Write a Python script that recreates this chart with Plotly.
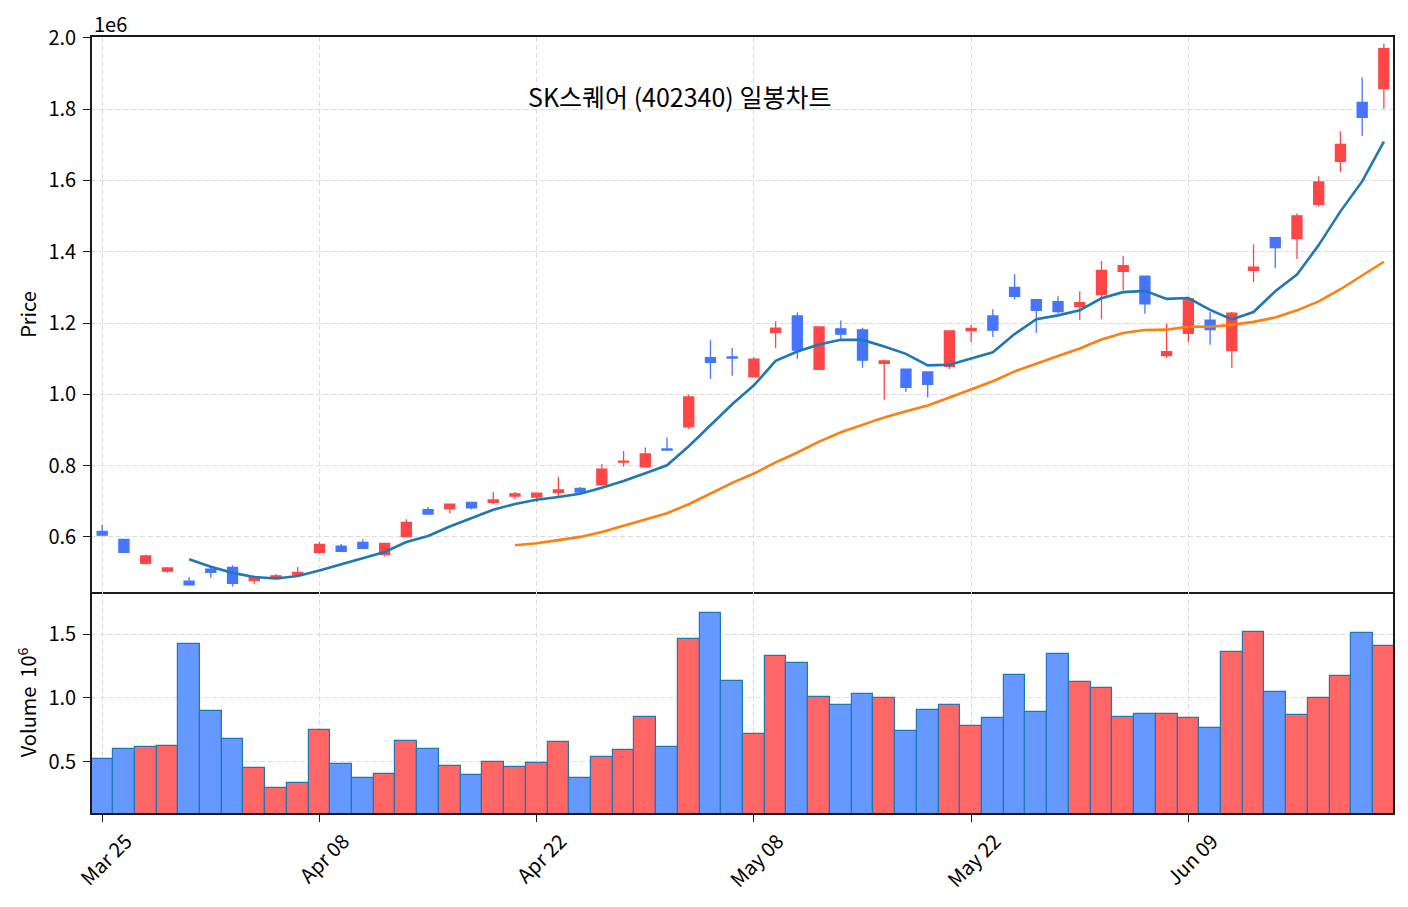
import plotly.graph_objects as go
import pandas as pd

FONT = "Noto Sans CJK KR, Noto Sans, DejaVu Sans"

dates = [
    "2025-03-25", "2025-03-26", "2025-03-27", "2025-03-28", "2025-03-31",
    "2025-04-01", "2025-04-02", "2025-04-03", "2025-04-04", "2025-04-07",
    "2025-04-08", "2025-04-09", "2025-04-10", "2025-04-11", "2025-04-14",
    "2025-04-15", "2025-04-16", "2025-04-17", "2025-04-18", "2025-04-21",
    "2025-04-22", "2025-04-23", "2025-04-24", "2025-04-25", "2025-04-28",
    "2025-04-29", "2025-04-30", "2025-05-01", "2025-05-02", "2025-05-07",
    "2025-05-08", "2025-05-09", "2025-05-12", "2025-05-13", "2025-05-14",
    "2025-05-15", "2025-05-16", "2025-05-19", "2025-05-20", "2025-05-21",
    "2025-05-22", "2025-05-23", "2025-05-26", "2025-05-27", "2025-05-28",
    "2025-05-29", "2025-05-30", "2025-06-02", "2025-06-04", "2025-06-05",
    "2025-06-09", "2025-06-10", "2025-06-11", "2025-06-12", "2025-06-13",
    "2025-06-16", "2025-06-17", "2025-06-18", "2025-06-19", "2025-06-20",
]

open_ = [
    616000, 593000, 526000, 504000, 476000, 510000, 515000, 478000, 483000, 495000,
    557000, 574000, 585000, 551000, 601000, 677000, 679000, 697000, 697000, 715000,
    712000, 725000, 736000, 746000, 810000, 797000, 847000, 909000, 1103000, 1105000,
    1049000, 1174000, 1220000, 1070000, 1184000, 1181000, 1087000, 1071000, 1063000, 1079000,
    1179000, 1220000, 1300000, 1266000, 1260000, 1246000, 1280000, 1345000, 1332000, 1109000,
    1171000, 1208000, 1123000, 1348000, 1440000, 1437000, 1533000, 1654000, 1819000, 1858000,
]
high = [
    634000, 594000, 550000, 516000, 488000, 513000, 521000, 491000, 496000, 516000,
    586000, 580000, 594000, 584000, 650000, 684000, 693000, 697000, 726000, 726000,
    724000, 769000, 740000, 805000, 841000, 851000, 879000, 999000, 1152000, 1130000,
    1104000, 1205000, 1230000, 1190000, 1207000, 1187000, 1098000, 1072000, 1064000, 1179000,
    1196000, 1239000, 1337000, 1267000, 1275000, 1289000, 1374000, 1389000, 1333000, 1198000,
    1269000, 1231000, 1231000, 1421000, 1441000, 1508000, 1612000, 1738000, 1889000, 1984000,
]
low = [
    604000, 556000, 522000, 500000, 464000, 486000, 461000, 469000, 482000, 491000,
    553000, 559000, 567000, 545000, 599000, 664000, 666000, 677000, 692000, 706000,
    698000, 714000, 723000, 746000, 798000, 797000, 844000, 903000, 1043000, 1052000,
    1049000, 1130000, 1100000, 1069000, 1150000, 1075000, 985000, 1007000, 991000, 1071000,
    1147000, 1161000, 1266000, 1173000, 1227000, 1209000, 1211000, 1292000, 1226000, 1103000,
    1147000, 1139000, 1075000, 1315000, 1354000, 1380000, 1526000, 1624000, 1725000, 1801000,
]
close = [
    605000, 557000, 547000, 513000, 466000, 501000, 470000, 489000, 491000, 501000,
    579000, 560000, 568000, 582000, 641000, 664000, 692000, 682000, 704000, 721000,
    723000, 732000, 726000, 790000, 813000, 833000, 844000, 993000, 1090000, 1102000,
    1099000, 1186000, 1124000, 1189000, 1169000, 1096000, 1094000, 1020000, 1028000, 1178000,
    1185000, 1180000, 1275000, 1236000, 1232000, 1257000, 1348000, 1361000, 1254000, 1120000,
    1268000, 1182000, 1228000, 1357000, 1412000, 1501000, 1596000, 1701000, 1777000, 1970000,
]
volume = [
    521000, 599000, 615000, 625000, 1424000, 897000, 680000, 450000, 294000, 336000,
    748000, 482000, 372000, 406000, 662000, 599000, 466000, 396000, 497000, 458000,
    490000, 654000, 372000, 537000, 591000, 850000, 615000, 1461000, 1664000, 1132000,
    714000, 1333000, 1273000, 1007000, 944000, 1035000, 999000, 740000, 905000, 944000,
    779000, 842000, 1179000, 889000, 1343000, 1124000, 1077000, 850000, 873000, 873000,
    842000, 764000, 1359000, 1516000, 1046000, 866000, 999000, 1171000, 1508000, 1406000,
]

tick_idx = [0, 10, 20, 30, 40, 50]
tick_labels = ["Mar 25", "Apr 08", "Apr 22", "May 08", "May 22", "Jun 09"]
price_ticks = [600000, 800000, 1000000, 1200000, 1400000, 1600000, 1800000, 2000000]
price_tick_labels = ["0.6", "0.8", "1.0", "1.2", "1.4", "1.6", "1.8", "2.0"]
vol_ticks = [500000, 1000000, 1500000]
vol_tick_labels = ["0.5", "1.0", "1.5"]

ma5 = pd.Series(close, dtype=float).rolling(5).mean()
ma20 = pd.Series(close, dtype=float).rolling(20).mean()

UP_C = "#ff4646"
DOWN_C = "#4674ff"
VOL_UP = "#ff6666"
VOL_DOWN = "#6699ff"
vol_colors = [VOL_UP if c >= o else VOL_DOWN for o, c in zip(open_, close)]

fig = go.Figure()
fig.add_trace(go.Candlestick(
    x=dates, open=open_, high=high, low=low, close=close,
    increasing=dict(line=dict(color=UP_C, width=1.3), fillcolor=UP_C),
    decreasing=dict(line=dict(color=DOWN_C, width=1.3), fillcolor=DOWN_C),
    whiskerwidth=0, xaxis="x", yaxis="y", showlegend=False,
))
fig.add_trace(go.Scatter(x=dates, y=ma5, mode="lines",
                         line=dict(color="#1f77b4", width=2.6),
                         xaxis="x", yaxis="y", showlegend=False))
fig.add_trace(go.Scatter(x=dates, y=ma20, mode="lines",
                         line=dict(color="#ff7f0e", width=2.6),
                         xaxis="x", yaxis="y", showlegend=False))
fig.add_trace(go.Bar(x=dates, y=volume, width=1,
                     marker=dict(color=vol_colors, line=dict(color="#1f77b4", width=1.2)),
                     xaxis="x2", yaxis="y2", showlegend=False))

x_range = [-0.47, 59.42]
TICK_FONT = dict(family=FONT, size=20, color="#000000")
common = dict(
    showline=True, linecolor="#1a1a1a", linewidth=1.6, mirror=True,
    ticks="outside", ticklen=7, tickwidth=1.4, tickcolor="#1a1a1a",
    showgrid=True, gridcolor="#dcdcdc", gridwidth=1, griddash="5px,3px",
    zeroline=False, automargin=False, tickfont=TICK_FONT,
)
VOL_SPLIT = (813 - 592) / 776.0

fig.update_layout(
    width=1408, height=907,
    margin=dict(l=92, r=15, t=37, b=94),
    plot_bgcolor="white", paper_bgcolor="white",
    showlegend=False, bargap=0, boxgap=0.34,
    font=dict(family=FONT, size=20, color="#000000"),
    xaxis=dict(common, domain=[0, 1], anchor="y", type="category", range=x_range,
               tickvals=[dates[i] for i in tick_idx], ticktext=tick_labels,
               showticklabels=False, ticks="", rangeslider=dict(visible=False)),
    yaxis=dict(common, domain=[VOL_SPLIT, 1], anchor="x", range=[445700, 2002500],
               tickvals=price_ticks, ticktext=price_tick_labels, ticklabelstandoff=3,
               title=dict(text="Price", standoff=6, font=TICK_FONT)),
    xaxis2=dict(common, mirror=False, domain=[0, 1], anchor="y2", type="category", range=x_range,
                tickvals=[dates[i] for i in tick_idx], ticktext=tick_labels,
                tickangle=-45, ticklabelshift=24),
    yaxis2=dict(common, domain=[0, VOL_SPLIT], anchor="x2", range=[98000, 1831000],
                tickvals=vol_ticks, ticktext=vol_tick_labels, ticklabelstandoff=3,
                title=dict(text="Volume\u00a0\u00a010<sup>6</sup>", standoff=6, font=TICK_FONT)),
    annotations=[
        dict(text="SK스퀘어 (402340) 일봉차트", xref="paper", yref="paper",
             x=(679.5 - 92) / 1301.0, y=(813 - 96) / 776.0, xanchor="center", yanchor="middle",
             showarrow=False, font=dict(family=FONT, size=25, color="#000000")),
        dict(text="1e6", xref="paper", yref="paper", x=0, y=1, xanchor="left", yanchor="bottom",
             yshift=-3, showarrow=False, font=TICK_FONT),
    ],
)

fig.write_html("out.html")
